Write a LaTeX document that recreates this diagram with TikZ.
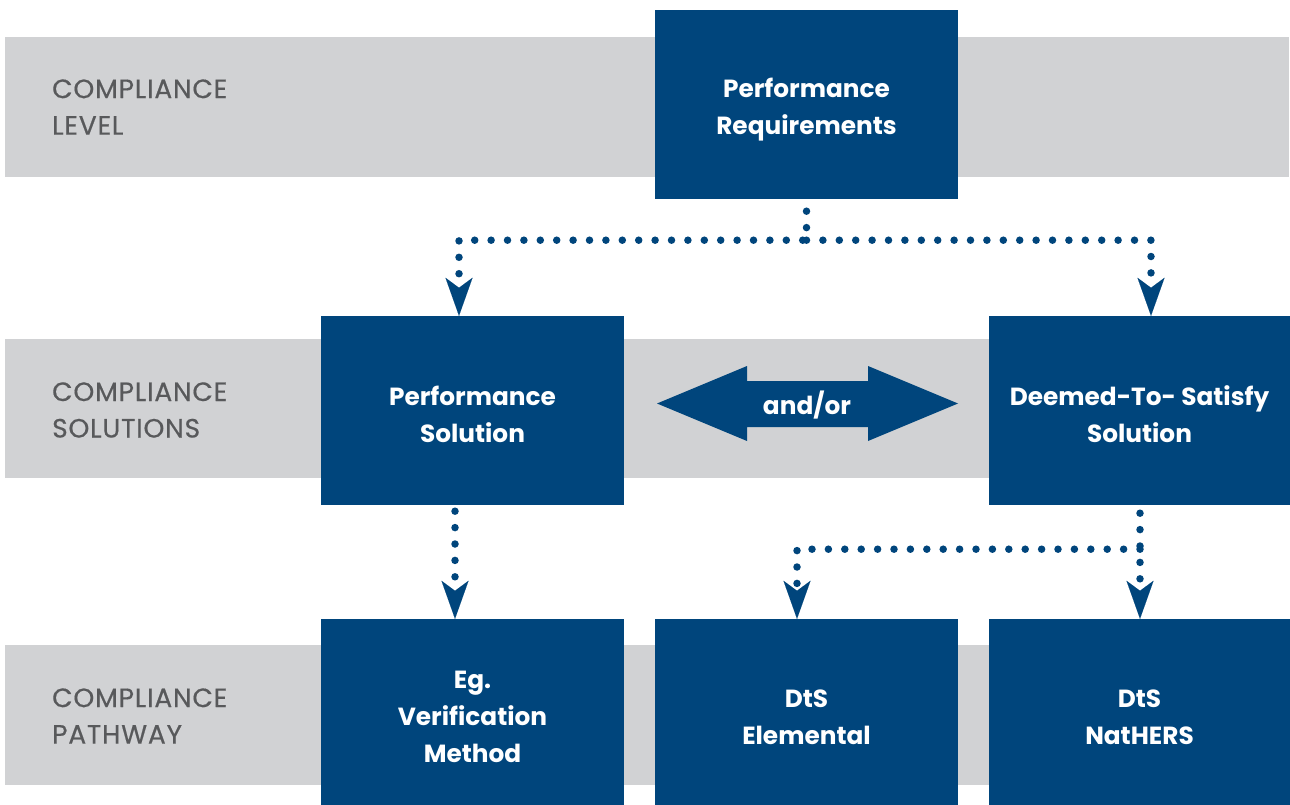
\documentclass[tikz,border=0pt]{standalone}
\usepackage{fontspec}
\setmainfont{Poppins}
\newfontfamily\labelfont{Poppins}[FakeBold=0.5, LetterSpace=3]
\usetikzlibrary{arrows.meta}
\definecolor{band}{HTML}{D1D2D4}
\definecolor{navy}{HTML}{00457C}
\definecolor{labelgray}{HTML}{58595B}
\tikzset{
  bandbox/.style={fill=band, draw=none},
  bluebox/.style={fill=navy, draw=none, minimum width=303pt, minimum height=189pt, inner sep=0pt},
  boxtext/.style={text=white, align=center, inner sep=0pt,
    font=\fontsize{24.8}{37}\selectfont\bfseries},
  levellabel/.style={anchor=west, align=left, text=labelgray, inner sep=0pt,
    font=\fontsize{26.5}{36.5}\selectfont\labelfont},
  dotline/.style={draw=navy, line width=7.5pt, line cap=round, dash pattern=on 0pt off 16.4pt,
    -{Stealth[length=38pt, width=27pt, inset=10pt, line width=0.01pt, fill=navy]}},
  twoarrow/.style={fill=navy, draw=none},
}
\begin{document}
\begin{tikzpicture}[x=1pt, y=1pt]
\useasboundingbox (0,0) rectangle (1290,-805);
\fill[white] (0,0) rectangle (1290,-805);
% bands
\path[bandbox] (5,-37) rectangle (1289,-177);
\path[bandbox] (5,-339) rectangle (1289,-478);
\path[bandbox] (5,-645) rectangle (1289,-785);
% labels
\node[levellabel] (l1) at (52,-107) {COMPLIANCE\\LEVEL};
\node[levellabel] (l2) at (52,-410) {COMPLIANCE\\SOLUTIONS};
\node[levellabel] (l3) at (52,-716) {COMPLIANCE\\PATHWAY};
% boxes
\node[bluebox] (pr) at (806.5,-104.5) {};
\node[bluebox] (ps) at (472.5,-410.5) {};
\node[bluebox, minimum width=301pt] (dts) at (1139.5,-410.5) {};
\node[bluebox, minimum height=186pt] (ev) at (472.5,-712) {};
\node[bluebox, minimum height=186pt] (el) at (806.5,-712) {};
\node[bluebox, minimum width=301pt, minimum height=186pt] (nh) at (1139.5,-712) {};
% box texts
\node[boxtext] (prt) at ([yshift=-5pt]pr.center) {Performance\\Requirements};
\node[boxtext] (pst) at ([yshift=-4pt]ps.center) {Performance\\Solution};
\node[boxtext] (dtst) at ([yshift=-4pt]dts.center) {Deemed-To- Satisfy\\Solution};
\node[boxtext] (evt) at ([yshift=-5pt]ev.center) {Eg.\\Verification\\Method};
\node[boxtext] (elt) at ([yshift=-5pt]el.center) {DtS\\Elemental};
\node[boxtext] (nht) at ([yshift=-5pt]nh.center) {DtS\\NatHERS};
% double arrow
\path[twoarrow] (657,-403.5) -- (747,-366) -- (747,-381) -- (868,-381) -- (868,-366)
  -- (958,-403.5) -- (868,-441) -- (868,-427) -- (747,-427) -- (747,-441) -- cycle;
\node[text=white, font=\fontsize{24.8}{27}\selectfont\bfseries] (andor) at (807,-405) {and/or};
% dotted connectors
\coordinate (t0) at ([yshift=-12pt]pr.south);
\coordinate (tm) at ([yshift=-41pt]pr.south);
\draw[dotline] (t0) -- (tm) -| ([xshift=-13.5pt]ps.north);
\draw[dotline] (tm) -| ([xshift=11.5pt]dts.north);
\draw[dotline] ([xshift=-17.5pt, yshift=-6pt]ps.south) -- ([xshift=-17.5pt]ev.north);
\coordinate (d0) at ([xshift=0.5pt, yshift=-8pt]dts.south);
\coordinate (dm) at ([xshift=0.5pt, yshift=-44pt]dts.south);
\draw[dotline] (d0) -- ([xshift=0.5pt]nh.north);
\draw[dotline] (dm) -| ([xshift=-9.5pt]el.north);
\end{tikzpicture}
\end{document}
